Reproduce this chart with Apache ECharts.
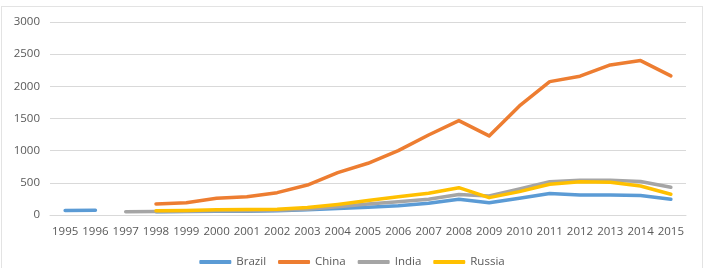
<!DOCTYPE html>
<html><head><meta charset="utf-8">
<script src="https://cdn.jsdelivr.net/npm/echarts@6/dist/echarts.min.js"></script>
<style>html,body{margin:0;padding:0;background:#fff}
#wrap{position:absolute;left:1px;top:6px;width:700px;height:264px;border:1px solid #e3e3e3;}
#c{position:absolute;left:0;top:0;width:704px;height:268px}</style>
</head><body><div id="wrap"></div><div id="c"></div>
<script>
const years = ['1995','1996','1997','1998','1999','2000','2001','2002','2003','2004','2005','2006','2007','2008','2009','2010','2011','2012','2013','2014','2015'];
const brazil = [70,75,null,50,55,60,60,65,80,100,120,145,182,244,191,260,335,312,312,302,245];
const china = [null,null,null,171,190,260,285,347,466,658,804,1000,1244,1467,1229,1695,2073,2157,2333,2400,2162];
const india = [null,null,50,55,60,65,68,72,90,130,170,205,245,320,295,405,518,540,542,522,430];
const russia = [null,null,null,65,70,80,85,90,115,165,225,285,337,425,270,363,477,518,510,451,322];
const yTicks = [0,500,1000,1500,2000,2500,3000];

const chart = echarts.init(document.getElementById('c'));
const mk = (name, data, color) => ({
  name, type:'line', data, showSymbol:false, symbol:'none', connectNulls:false,
  lineStyle:{width:3.5, color, cap:'round', join:'round'}, itemStyle:{color}
});
chart.setOption({
  animation:false,
  textStyle:{fontFamily:'"Open Sans", "Noto Sans", sans-serif'},
  grid:{left:50, right:18, top:22, bottom:53, containLabel:false},
  xAxis:{type:'category', data:years, boundaryGap:true,
    axisLine:{show:true, lineStyle:{color:'#d9d9d9'}}, axisTick:{show:false},
    axisLabel:{color:'#595959', fontSize:11.5, margin:11, interval:0}},
  yAxis:{type:'value', min:yTicks[0], max:yTicks[yTicks.length-1], interval:500,
    axisLine:{show:false}, axisTick:{show:false},
    splitLine:{lineStyle:{color:'#d9d9d9', width:1}},
    axisLabel:{color:'#595959', fontSize:11.5, margin:10, formatter:v=>String(v)}},
  legend:{top:251, left:'center', itemWidth:32, itemHeight:4, icon:'roundRect', itemGap:12,
    textStyle:{color:'#595959', fontSize:11.5}, data:['Brazil','China','India','Russia']},
  series:[mk('Brazil',brazil,'#5B9BD5'), mk('China',china,'#ED7D31'), mk('India',india,'#A5A5A5'), mk('Russia',russia,'#FFC000')]
});
</script></body></html>
